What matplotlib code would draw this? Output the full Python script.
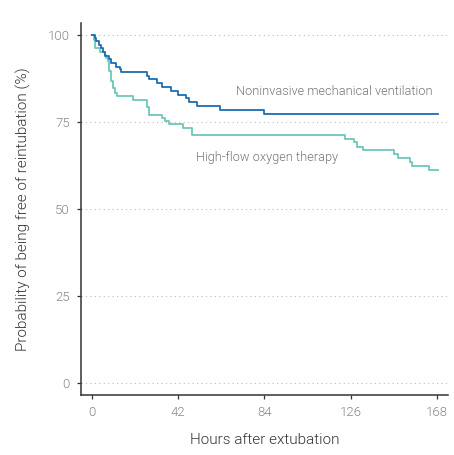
import matplotlib
matplotlib.use("Agg")
import matplotlib.pyplot as plt

plt.rcParams['font.family'] = ['Roboto', 'DejaVu Sans']
plt.rcParams['font.weight'] = 300

# Noninvasive mechanical ventilation (time in hours, survival %)
niv_time = [0, 1.3, 2.1, 3.4, 4.5, 5.5, 6.2, 8.1, 9.1, 11.8, 13.5, 14.3, 26.6, 27.8,
            31.5, 33.9, 38.5, 42.0, 46.0, 47.2, 51.0, 62.3, 83.7, 168.5]
niv_surv = [100, 99.0, 98.1, 97.1, 96.2, 95.1, 94.0, 93.0, 91.8, 90.9, 90.1, 89.3, 88.3, 87.3,
            86.1, 84.9, 83.9, 82.8, 81.8, 80.7, 79.6, 78.4, 77.4, 77.4]

# High-flow oxygen therapy
hfo_time = [0, 0.8, 1.3, 3.7, 6.2, 7.0, 7.9, 8.3, 9.3, 10.4, 11.2, 12.0, 20.1, 26.9, 27.9,
            33.9, 35.5, 37.6, 44.2, 48.5, 123.2, 127.6, 128.9, 132.1, 147.0, 149.1,
            154.8, 156.1, 164.2, 168.5]
hfo_surv = [100, 98.5, 96.2, 95.2, 94.3, 93.3, 92.4, 89.5, 86.7, 84.8, 83.3, 82.4, 81.4, 79.4, 77.0,
            76.1, 75.2, 74.4, 73.2, 71.3, 70.2, 69.1, 67.9, 66.8, 65.8, 64.6,
            63.5, 62.4, 61.2, 61.2]

x_ticks = [0, 42, 84, 126, 168]
y_ticks = [0, 25, 50, 75, 100]

niv_label = "Noninvasive mechanical ventilation"
hfo_label = "High-flow oxygen therapy"

fig = plt.figure(figsize=(4.54, 4.55), dpi=100)
ax = fig.add_axes([0.1784, 0.1319, 0.8084, 0.8176])

for y in y_ticks:
    ax.axhline(y, color='#bbbbbb', linestyle=(0, (1, 3)), linewidth=0.8, zorder=0)

niv_color = '#1c6db3'
hfo_color = '#6ec6b9'
ax.step(hfo_time, hfo_surv, where='post', color=hfo_color, linewidth=1.3)
ax.step(niv_time, niv_surv, where='post', color=niv_color, linewidth=1.3)

ax.text(70.1, 83.6, niv_label, fontsize=9.2, color='#777777', va='center', ha='left', fontweight=300)
ax.text(50.6, 64.7, hfo_label, fontsize=9.2, color='#777777', va='center', ha='left', fontweight=300)

ax.set_xlim(-5.4, 173.5)
ax.set_ylim(-3.4, 103.4)
ax.set_xticks(x_ticks)
ax.set_yticks(y_ticks)

for s in ['top', 'right']:
    ax.spines[s].set_visible(False)
for s in ['left', 'bottom']:
    ax.spines[s].set_color('#333333')
    ax.spines[s].set_linewidth(1.1)

ax.tick_params(axis='both', direction='out', length=3, width=0.9, color='#333333',
               labelcolor='#888888', labelsize=9.5, pad=5)
for lab in ax.get_xticklabels() + ax.get_yticklabels():
    lab.set_fontweight(300)
ax.set_xlabel("Hours after extubation", fontsize=11, color='#333333', labelpad=10, fontweight=300)
ax.set_ylabel("Probability of being free of reintubation (%)", fontsize=11, color='#333333',
              labelpad=12, fontweight=300)

fig.savefig("out.png", dpi=100)
